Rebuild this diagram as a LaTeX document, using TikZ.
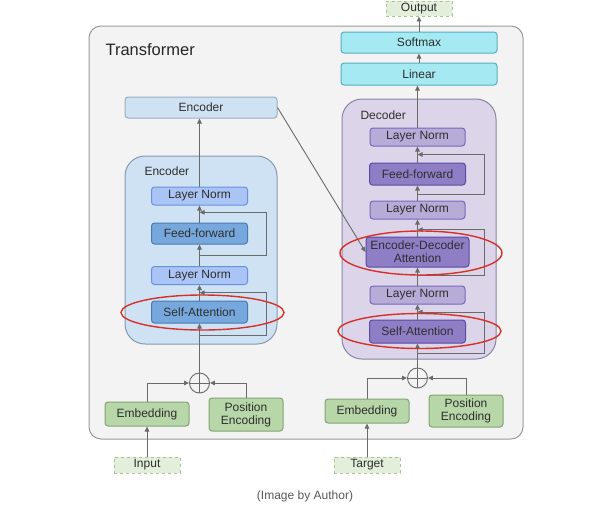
\documentclass[tikz,border=0pt]{standalone}
\usepackage{fontspec}
\setmainfont{Liberation Sans}
\usetikzlibrary{positioning,calc,arrows.meta}

\definecolor{framegray}{HTML}{9A9A9A}
\definecolor{framefill}{HTML}{F3F3F3}
\definecolor{txtgray}{HTML}{2E2E2E}
\definecolor{arrgray}{HTML}{6A6A6A}
\definecolor{encfill}{HTML}{CFE2F3}
\definecolor{encdraw}{HTML}{8599B0}
\definecolor{lnencfill}{HTML}{A9C4F5}
\definecolor{lnencdraw}{HTML}{6A92DA}
\definecolor{blkencfill}{HTML}{76A7DD}
\definecolor{blkencdraw}{HTML}{4A7AB4}
\definecolor{decfill}{HTML}{DCD5EA}
\definecolor{decdraw}{HTML}{8A83A5}
\definecolor{lndecfill}{HTML}{B7ABD8}
\definecolor{lndecdraw}{HTML}{7767BC}
\definecolor{blkdecfill}{HTML}{8F7EC6}
\definecolor{blkdecdraw}{HTML}{5A4AA2}
\definecolor{cyanfill}{HTML}{A5EAF3}
\definecolor{cyandraw}{HTML}{58AFC0}
\definecolor{embfill}{HTML}{B8D7A9}
\definecolor{embdraw}{HTML}{83A375}
\definecolor{iofill}{HTML}{E3EFDA}
\definecolor{iodraw}{HTML}{A9C699}
\definecolor{ringred}{HTML}{D6302B}

\tikzset{
  blk/.style={draw, rounded corners=3pt, line width=1pt, text=txtgray, inner sep=0pt},
  lnenc/.style={blk, fill=lnencfill, draw=lnencdraw, minimum width=96, minimum height=18},
  blkenc/.style={blk, fill=blkencfill, draw=blkencdraw, minimum width=96, minimum height=22},
  lndec/.style={blk, fill=lndecfill, draw=lndecdraw, minimum width=95, minimum height=18},
  blkdec/.style={blk, fill=blkdecfill, draw=blkdecdraw, minimum width=96, minimum height=22},
  topenc/.style={blk, fill=encfill, draw=encdraw!80, minimum width=152, minimum height=21},
  cyanbox/.style={blk, fill=cyanfill, draw=cyandraw, minimum width=156, minimum height=21},
  embbox/.style={blk, fill=embfill, draw=embdraw, align=center, minimum width=84, minimum height=24},
  iobox/.style={draw=iodraw, dashed, fill=iofill, line width=0.9pt, text=txtgray,
    inner sep=0pt, minimum width=66, minimum height=16},
  plus/.style={circle, draw=arrgray, fill=framefill, line width=0.9pt, minimum size=20, inner sep=0pt,
    path picture={\draw[arrgray, line width=0.8pt]
      (path picture bounding box.north) -- (path picture bounding box.south)
      (path picture bounding box.west) -- (path picture bounding box.east);}},
  arr/.style={draw=arrgray, line width=0.9pt, -{Triangle[length=5pt,width=4.5pt]}},
  ring/.style={draw=ringred, line width=1.4pt},
}

\begin{document}
\begin{tikzpicture}[x=1pt,y=-1pt,font=\fontsize{12}{14}\selectfont]
\useasboundingbox (0,0) rectangle (612,504);

% Frames
\draw[draw=framegray, fill=framefill, line width=1pt, rounded corners=12pt] (89,26) rectangle (523,439);
\node[anchor=west, text=black!85, font=\fontsize{16.5}{18}\selectfont] (title) at (102,50) {Transformer};
\draw[draw=encdraw, fill=encfill, line width=1pt, rounded corners=20pt] (125,156) rectangle (277,344);
\node[anchor=west, text=txtgray] (enclabel) at (141,171) {Encoder};
\draw[draw=decdraw, fill=decfill, line width=1pt, rounded corners=20pt] (342,99) rectangle (496,359);
\node[anchor=west, text=txtgray] (declabel) at (357,115) {Decoder};

% Encoder stack
\node[topenc] (etop) at (201,107.5) {Encoder};
\node[lnenc] (eln1) at (199.5,196) {Layer Norm};
\node[blkenc, minimum height=21] (eff) at (199.5,233.5) {Feed-forward};
\node[lnenc] (eln2) at (199.5,275.5) {Layer Norm};
\node[blkenc] (esa) at (199.5,312) {Self-Attention};
\node[plus] (eplus) at (199.5,383) {};
\node[embbox] (eemb) at (147,414) {Embedding};
\node[embbox, minimum width=74, minimum height=33] (epos) at (246,414.5) {Position\\[-1pt]Encoding};
\node[iobox] (input) at (147,465) {Input};

% Decoder stack
\node[cyanbox] (dsoft) at (419,42.5) {Softmax};
\node[cyanbox, minimum height=22] (dlin) at (419,74) {Linear};
\node[iobox, minimum height=15] (output) at (419,8.5) {Output};
\node[lndec] (dln1) at (417.5,137) {Layer Norm};
\node[blkdec] (dff) at (417.5,174) {Feed-forward};
\node[lndec] (dln2) at (417.5,210) {Layer Norm};
\node[blkdec, minimum width=103, minimum height=30, align=center] (dedatt) at (417.5,252) {Encoder-Decoder\\[-1pt]Attention};
\node[lndec] (dln3) at (417.5,295) {Layer Norm};
\node[blkdec, minimum height=23] (dsa) at (417.5,331.5) {Self-Attention};
\node[plus] (dplus) at (417.5,378) {};
\node[embbox] (demb) at (367,411) {Embedding};
\node[embbox, minimum width=74, minimum height=32] (dpos) at (466,411) {Position\\[-1pt]Encoding};
\node[iobox] (target) at (367,465) {Target};

% Encoder connectors
\draw[arr] (input) -- (eemb);
\draw[arr] (eemb.north) |- (eplus.west);
\draw[arr] (epos.north) |- (eplus.east);
\draw[arr] (eplus) -- (esa);
\draw[arr] (esa) -- (eln2);
\draw[arr] (eln2) -- (eff);
\draw[arr] (eff) -- (eln1);
\draw[arr] (eln1.north) -- (eln1.north |- etop.south);
\draw[arr] ($(esa.south)+(0,12)$) -- ++(66.5,0) |- ($(eln2.south)!0.5!(esa.north)$);
\draw[arr] ($(eln2.north)!0.5!(eff.south)$) -- ++(66.5,0) |- ($(eln1.south)!0.4!(eff.north)$);

% Decoder connectors
\draw[arr] (target) -- (demb);
\draw[arr] (demb.north) |- (dplus.west);
\draw[arr] (dpos.north) |- (dplus.east);
\draw[arr] (dplus) -- (dsa);
\draw[arr] (dsa) -- (dln3);
\draw[arr] (dln3) -- (dedatt);
\draw[arr] (dedatt) -- (dln2);
\draw[arr] (dln2) -- (dff);
\draw[arr] (dff) -- (dln1);
\draw[arr] (dln1.north) -- (dln1.north |- dlin.south);
\draw[arr] (dlin) -- (dsoft);
\draw[arr] (dsoft) -- (output);
\draw[arr] ($(dsa.south)+(0,10)$) -- ++(66.5,0) |- ($(dln3.south)!0.5!(dsa.north)$);
\draw[arr] ($(dedatt.south)!0.45!(dln3.north)$) -- ++(66.5,0) |- ($(dln2.south)!0.6!(dedatt.north)$);
\draw[arr] ($(dff.south)!0.6!(dln2.north)$) -- ++(66.5,0) |- ($(dln1.south)!0.5!(dff.north)$);
\draw[arr] (etop.east) -- (dedatt.west);

% Highlights
\draw[ring] (202.5,312.5) ellipse [x radius=81.5, y radius=17.5];
\draw[ring] (421,253) ellipse [x radius=81, y radius=22];
\draw[ring] (419.5,331) ellipse [x radius=81.5, y radius=17.5];

\node[text=black!65] (caption) at (305,496) {(Image by Author)};
\end{tikzpicture}
\end{document}
